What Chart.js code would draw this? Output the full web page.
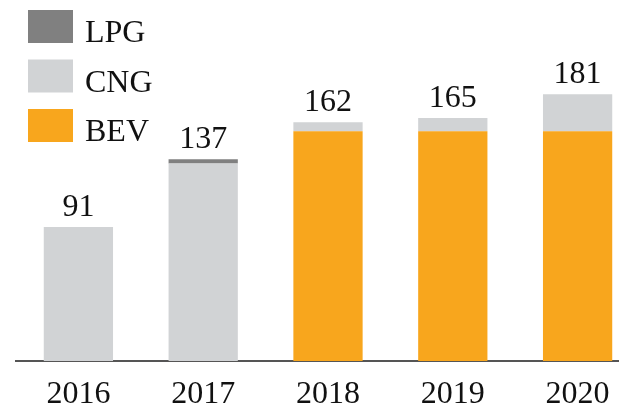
<!DOCTYPE html>
<html>
<head>
<meta charset="utf-8">
<script src="https://cdn.jsdelivr.net/npm/chart.js@4.4.1/dist/chart.umd.min.js"></script>
<style>
  html, body { margin: 0; padding: 0; overflow: hidden; background: #fff; }
  #wrap { width: 619px; height: 411px; overflow: hidden; }
</style>
</head>
<body>
<div id="wrap"><canvas id="vehicleChart" width="640" height="411"></canvas></div>
<script>
// Vehicles by fuel type
const years = ['2016', '2017', '2018', '2019', '2020'];
const bev = [0, 0, 156, 156, 156];
const cng = [91, 134, 6, 9, 25];
const lpg = [0, 3, 0, 0, 0];

const serif = '"Liberation Serif", "DejaVu Serif", serif';

// totals above each bar
const totalLabels = {
  id: 'totalLabels',
  afterDatasetsDraw(chart) {
    const ctx = chart.ctx;
    const y = chart.scales.y;
    const meta = chart.getDatasetMeta(0);
    ctx.save();
    ctx.font = '32px ' + serif;
    ctx.fillStyle = '#111';
    ctx.textAlign = 'center';
    ctx.textBaseline = 'alphabetic';
    years.forEach((yr, i) => {
      const total = bev[i] + cng[i] + lpg[i];
      const x = meta.data[i].x;
      ctx.fillText(String(total), x, y.getPixelForValue(total) - 11);
    });
    ctx.restore();
  }
};

// legend top-left, top series first
const boxLegend = {
  id: 'boxLegend',
  afterDraw(chart) {
    const ctx = chart.ctx;
    const sets = chart.data.datasets.slice().reverse();
    ctx.save();
    ctx.font = '32px ' + serif;
    ctx.textBaseline = 'alphabetic';
    sets.forEach((ds, i) => {
      const top = 10 + i * 49.5;
      ctx.fillStyle = ds.backgroundColor;
      ctx.fillRect(28, top, 45, 33);
      ctx.fillStyle = '#111';
      ctx.fillText(ds.label, 85, top + 32);
    });
    ctx.restore();
  }
};

const vehicleChart = new Chart(document.getElementById('vehicleChart'), {
  type: 'bar',
  data: {
    labels: years,
    datasets: [
      { label: 'BEV', data: bev, backgroundColor: '#f8a61d' },
      { label: 'CNG', data: cng, backgroundColor: '#d1d3d5' },
      { label: 'LPG', data: lpg, backgroundColor: '#808080' }
    ]
  },
  options: {
    responsive: false,
    animation: false,
    layout: { padding: { left: 16, right: 0, top: 0, bottom: 0 } },
    datasets: {
      bar: { barPercentage: 0.555, categoryPercentage: 1 }
    },
    plugins: {
      legend: { display: false },
      tooltip: { enabled: false }
    },
    scales: {
      x: {
        stacked: true,
        grid: { display: false },
        border: { display: true, color: '#555', width: 2 },
        ticks: {
          color: '#111',
          font: { family: serif, size: 32 },
          padding: 6
        },
        afterFit(axis) { axis.height = 50; }
      },
      y: {
        stacked: true,
        display: false,
        min: 0,
        max: 245
      }
    }
  },
  plugins: [totalLabels, boxLegend]
});
</script>
</body>
</html>
